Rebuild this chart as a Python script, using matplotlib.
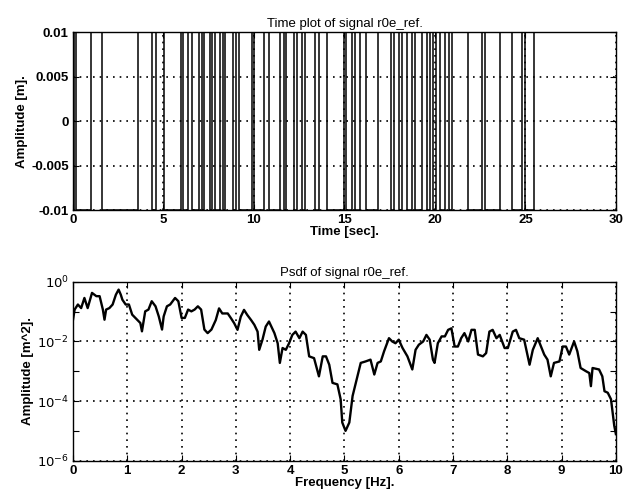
import numpy as np
import matplotlib
matplotlib.use("Agg")
import matplotlib.pyplot as plt
from matplotlib.ticker import FixedLocator, FixedFormatter, NullFormatter

plt.rcParams['font.family'] = ['Liberation Sans', 'DejaVu Sans']

# Switching instants of the binary reference signal (seconds)
switch_times = [0.05, 0.17, 1.0, 1.58, 3.59, 4.35, 4.59, 5.02, 5.97, 6.1,
                6.35, 6.56, 6.97, 7.15, 7.24, 7.57, 7.7, 7.85, 8.15, 8.3,
                8.42, 8.86, 9.02, 9.2, 9.87, 9.98, 10.58, 10.82, 11.44, 11.68,
                11.78, 12.2, 12.4, 12.65, 12.8, 13.4, 13.6, 14.05, 14.95, 15.1,
                15.4, 15.6, 15.86, 16.2, 16.85, 17.55, 17.72, 18.0, 18.16, 18.44,
                18.72, 18.9, 19.3, 19.55, 19.75, 19.9, 20.05, 20.28, 20.55, 20.75,
                20.92, 21.84, 22.6, 22.78, 23.6, 24.24, 24.8, 24.96, 25.45]
signal_amplitude = 0.01
t_end = 30.0

# Power spectral density estimate: frequency [Hz] and log10 of amplitude [m^2]
psd_freq = [0.0, 0.03, 0.09, 0.15, 0.21, 0.27, 0.35, 0.43, 0.49, 0.55,
            0.58, 0.61, 0.67, 0.73, 0.79, 0.84, 0.88, 0.91, 0.97, 1.03,
            1.09, 1.18, 1.24, 1.27, 1.33, 1.39, 1.45, 1.52, 1.58, 1.64,
            1.67, 1.73, 1.79, 1.88, 1.94, 2.0, 2.06, 2.12, 2.18, 2.24,
            2.30, 2.36, 2.42, 2.48, 2.55, 2.63, 2.69, 2.75, 2.85, 2.91,
            2.97, 3.03, 3.09, 3.15, 3.21, 3.28, 3.34, 3.40, 3.43, 3.49,
            3.55, 3.61, 3.71, 3.77, 3.81, 3.86, 3.92, 3.98, 4.04, 4.10,
            4.17, 4.23, 4.29, 4.35, 4.44, 4.53, 4.60, 4.66, 4.72, 4.78,
            4.87, 4.93, 4.96, 5.02, 5.09, 5.15, 5.21, 5.30, 5.39, 5.48,
            5.55, 5.61, 5.67, 5.73, 5.82, 5.88, 5.94, 6.0, 6.07, 6.16,
            6.25, 6.31, 6.37, 6.45, 6.51, 6.57, 6.63, 6.66, 6.72, 6.79,
            6.85, 6.91, 6.97, 7.03, 7.09, 7.15, 7.21, 7.28, 7.34, 7.40,
            7.46, 7.55, 7.61, 7.67, 7.73, 7.80, 7.86, 7.95, 8.01, 8.10,
            8.16, 8.22, 8.31, 8.41, 8.47, 8.56, 8.62, 8.68, 8.74, 8.80,
            8.86, 8.96, 9.02, 9.08, 9.14, 9.23, 9.29, 9.35, 9.45, 9.51,
            9.54, 9.57, 9.69, 9.75, 9.79, 9.85, 9.91, 9.97, 10.0]
psd_log10 = [-1.27, -0.93, -0.76, -0.88, -0.54, -0.88, -0.37, -0.48, -0.48, -0.93,
             -1.27, -0.93, -0.88, -0.76, -0.43, -0.26, -0.43, -0.6, -0.76, -0.76,
             -1.1, -1.27, -1.38, -1.66, -0.99, -0.93, -0.65, -0.82, -1.16, -1.6,
             -1.16, -0.82, -0.76, -0.54, -0.65, -1.21, -1.21, -0.93, -0.99, -0.93,
             -0.82, -0.93, -1.6, -1.72, -1.6, -1.28, -0.89, -1.06, -1.06, -1.22,
             -1.39, -1.61, -1.17, -0.94, -1.11, -1.28, -1.44, -1.67, -2.28, -1.94,
             -1.5, -1.33, -1.72, -2.06, -2.72, -2.22, -2.28, -2.06, -1.78, -1.67,
             -1.89, -1.67, -1.78, -2.5, -2.56, -3.17, -2.5, -2.5, -2.78, -3.39,
             -3.44, -3.94, -4.72, -5.0, -4.72, -3.83, -3.39, -2.72, -2.67, -2.61,
             -3.11, -2.72, -2.67, -2.33, -1.89, -2.0, -2.06, -1.94, -2.22, -2.5,
             -2.94, -2.28, -2.11, -2.0, -1.78, -1.94, -2.61, -2.72, -2.06, -1.83,
             -1.83, -1.61, -1.56, -2.17, -2.17, -1.89, -1.72, -2.0, -1.61, -1.61,
             -2.44, -2.5, -2.39, -1.67, -1.61, -1.89, -1.78, -2.22, -2.22, -1.67,
             -1.61, -1.89, -1.94, -2.78, -2.28, -1.89, -2.17, -2.44, -2.61, -3.17,
             -2.72, -2.67, -2.17, -2.17, -2.44, -2.0, -2.33, -2.89, -3.0, -3.06,
             -3.5, -2.89, -2.94, -3.17, -3.67, -3.72, -3.94, -4.83, -5.11]

# Build the piecewise constant signal from its switching instants
edges = np.concatenate(([0.0], switch_times, [t_end]))
levels = signal_amplitude * np.where(np.arange(len(edges) - 1) % 2 == 0, -1.0, 1.0)
t_sig = np.repeat(edges, 2)[1:-1]
y_sig = np.repeat(levels, 2)

psd = 10.0 ** np.array(psd_log10)

fig = plt.figure(figsize=(6.24, 4.98), dpi=100)
ax1 = fig.add_axes([0.117, 0.578, 0.870, 0.357])
ax2 = fig.add_axes([0.117, 0.075, 0.870, 0.359])

label_font = dict(fontsize=9.5, fontweight='bold')

# Time-domain plot
ax1.plot(t_sig, y_sig, color='black', linewidth=1.1)
ax1.set_xlim(0, 30)
ax1.set_ylim(-0.01, 0.01)
ax1.set_xticks([0, 5, 10, 15, 20, 25, 30])
ax1.set_yticks([-0.01, -0.005, 0, 0.005, 0.01])
ax1.set_yticklabels(['-0.01', '-0.005', '0', '0.005', '0.01'])
ax1.set_title('Time plot of signal r0e_ref.', fontsize=9.5, pad=4)
ax1.set_xlabel('Time [sec].', labelpad=0, **label_font)
ax1.set_ylabel('Amplitude [m].', labelpad=2, **label_font)

# Spectral density plot
ax2.semilogy(psd_freq, psd, color='black', linewidth=1.7)
ax2.set_xlim(0, 10)
ax2.set_ylim(1e-6, 1e0)
ax2.set_xticks(range(0, 11))
ax2.yaxis.set_major_locator(FixedLocator([1e-6, 1e-4, 1e-2, 1e0]))
ax2.yaxis.set_major_formatter(FixedFormatter([r'$10^{-6}$', r'$10^{-4}$', r'$10^{-2}$', r'$10^{0}$']))
ax2.yaxis.set_minor_locator(FixedLocator([1e-5, 1e-3, 1e-1]))
ax2.yaxis.set_minor_formatter(NullFormatter())
ax2.set_title('Psdf of signal r0e_ref.', fontsize=9.5, pad=4)
ax2.set_xlabel('Frequency [Hz].', labelpad=0, **label_font)
ax2.set_ylabel('Amplitude [m^2].', labelpad=2, **label_font)

for ax in (ax1, ax2):
    ax.grid(True, which='major', linestyle=(0, (1, 3)), color='black', linewidth=1.2)
    ax.tick_params(which='both', direction='in', top=True, right=True,
                   length=4, width=0.8, labelsize=9.5, pad=3)
    for lbl in ax.get_xticklabels() + ax.get_yticklabels():
        lbl.set_fontweight('bold')
    for sp in ax.spines.values():
        sp.set_linewidth(1.0)

fig.savefig('out.png', dpi=100)
